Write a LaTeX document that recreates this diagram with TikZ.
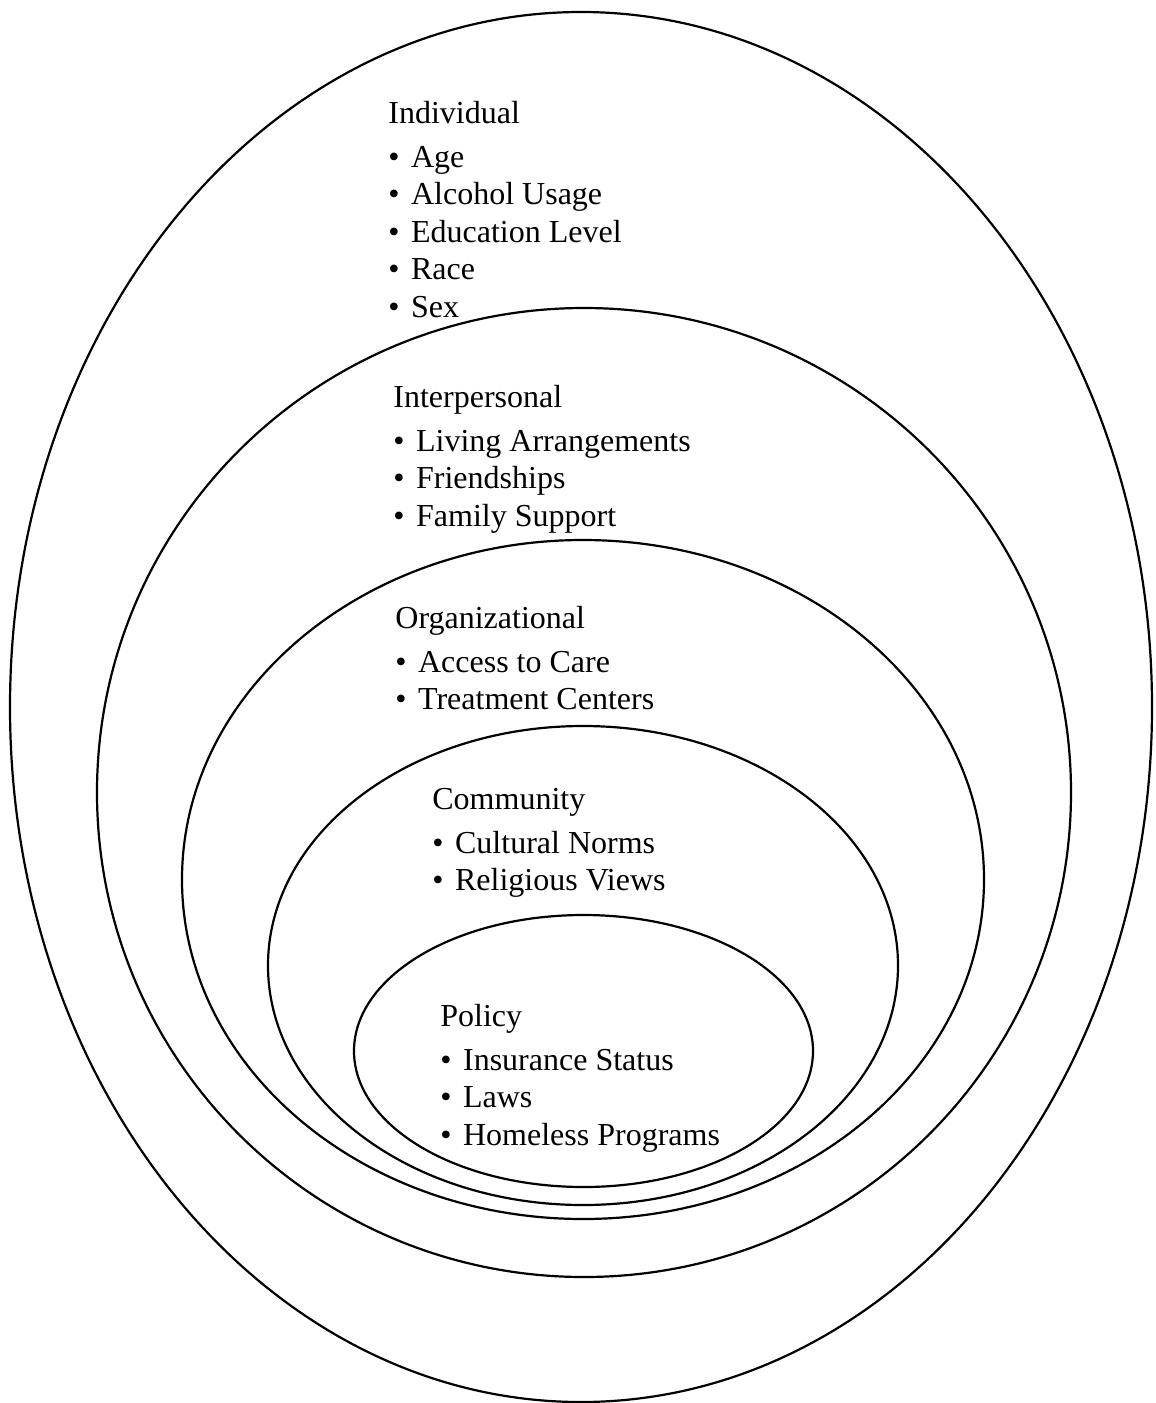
\documentclass[tikz,border=0pt]{standalone}
\usepackage{fontspec}
\setmainfont{Liberation Serif}
\usetikzlibrary{positioning}

\tikzset{
  layer/.style={draw=black, line width=1.1pt},
  heading/.style={inner sep=0pt, anchor=base west, font=\fontsize{16pt}{19pt}\selectfont},
  item/.style={heading}
}
\newcommand{\bul}[1]{•\hspace{0.36em}#1}

\begin{document}
\begin{tikzpicture}[x=0.5pt, y=-0.5pt, node distance=18.75pt]
  \useasboundingbox (0,0) rectangle (1156,1403);
  % nested layers
  \draw[layer] (581,707) ellipse [x radius=285.5pt, y radius=347.5pt];
  \draw[layer] (584,792.5) ellipse [x radius=243.5pt, y radius=242.25pt];
  \draw[layer] (583,879.5) ellipse [x radius=200.5pt, y radius=169.75pt];
  \draw[layer] (583,965.5) ellipse [x radius=157.5pt, y radius=119.75pt];
  \draw[layer] (583.5,1051) ellipse [x radius=114.75pt, y radius=68pt];

  % individual
  \node[heading] (indiv) at (388,123) {Individual};
  \node[item, below=22pt of indiv.base west, anchor=base west] (age) {\bul{Age}};
  \node[item, below=of age.base west, anchor=base west] (alcohol) {\bul{Alcohol Usage}};
  \node[item, below=of alcohol.base west, anchor=base west] (educ) {\bul{Education Level}};
  \node[item, below=of educ.base west, anchor=base west] (race) {\bul{Race}};
  \node[item, below=of race.base west, anchor=base west] (sex) {\bul{Sex}};

  % interpersonal
  \node[heading] (inter) at (393,407) {Interpersonal};
  \node[item, below=22pt of inter.base west, anchor=base west] (living) {\bul{Living Arrangements}};
  \node[item, below=of living.base west, anchor=base west] (friends) {\bul{Friendships}};
  \node[item, below=of friends.base west, anchor=base west] (family) {\bul{Family Support}};

  % organizational
  \node[heading] (organ) at (395,628) {Organizational};
  \node[item, below=22pt of organ.base west, anchor=base west] (access) {\bul{Access to Care}};
  \node[item, below=of access.base west, anchor=base west] (treat) {\bul{Treatment Centers}};

  % community
  \node[heading] (comm) at (432,809) {Community};
  \node[item, below=22pt of comm.base west, anchor=base west] (norms) {\bul{Cultural Norms}};
  \node[item, below=of norms.base west, anchor=base west] (relig) {\bul{Religious Views}};

  % policy
  \node[heading] (policy) at (440,1026) {Policy};
  \node[item, below=22pt of policy.base west, anchor=base west] (insur) {\bul{Insurance Status}};
  \node[item, below=of insur.base west, anchor=base west] (laws) {\bul{Laws}};
  \node[item, below=of laws.base west, anchor=base west] (homeless) {\bul{Homeless Programs}};
\end{tikzpicture}
\end{document}
